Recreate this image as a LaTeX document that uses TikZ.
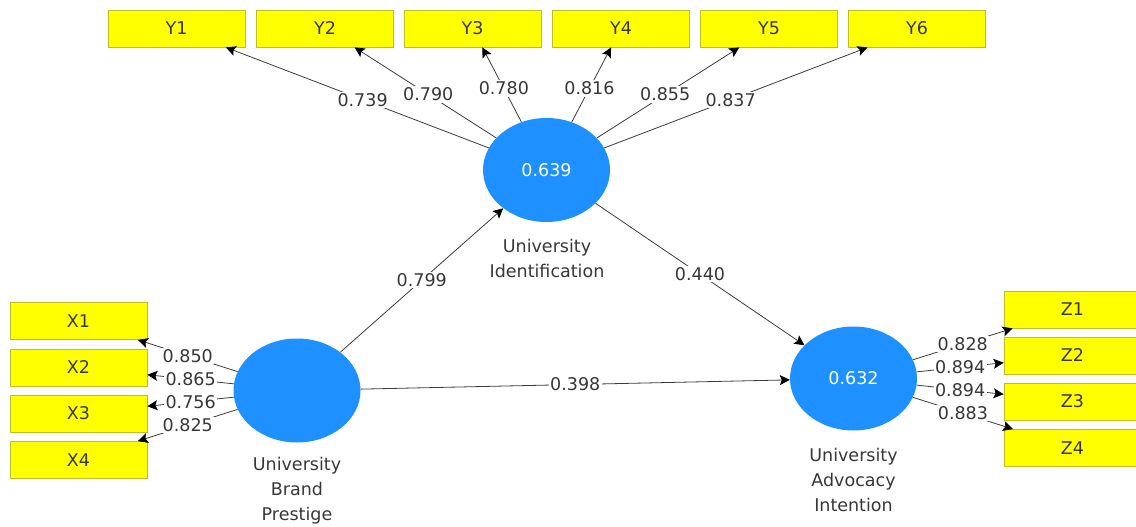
\documentclass[tikz,border=0pt]{standalone}
\usepackage{fontspec}
\setmainfont{DejaVu Sans}
\usetikzlibrary{shapes.geometric,arrows.meta}
\definecolor{plsblue}{RGB}{30,144,255}
\definecolor{boxyellow}{RGB}{255,255,0}
\definecolor{boxborder}{RGB}{190,190,40}
\definecolor{txt}{RGB}{55,55,55}
\definecolor{linegray}{RGB}{60,60,60}
\newcommand{\labfont}{\fontsize{17.5}{25}\selectfont}
\tikzset{
  ind/.style={draw=boxborder, fill=boxyellow, line width=0.8pt, minimum width=137pt, minimum height=37pt, inner sep=0pt, font=\labfont, text=txt},
  lat/.style={ellipse, fill=plsblue, minimum width=127pt, minimum height=104pt, inner sep=0pt, font=\labfont, text=white},
  ld/.style={fill=white, inner sep=1.5pt, font=\labfont, text=txt},
  latcap/.style={align=center, font=\labfont, text=txt, inner sep=0pt},
  conn/.style={draw=linegray, line width=0.8pt, -{Stealth[length=10pt,width=10pt,inset=2pt,color=black]}}
}
\begin{document}
\begin{tikzpicture}[x=1pt,y=-1pt]
\useasboundingbox (0,0) rectangle (1136,527);
\clip (0,0) rectangle (1136,527);
% indicator boxes
\node[ind] (Y1) at (176.5,28.5) {Y1};
\node[ind] (Y2) at (325,28.5) {Y2};
\node[ind] (Y3) at (472.5,28.5) {Y3};
\node[ind] (Y4) at (621,28.5) {Y4};
\node[ind] (Y5) at (769,28.5) {Y5};
\node[ind] (Y6) at (917,28.5) {Y6};
\node[ind] (X1) at (78.5,321) {X1};
\node[ind] (X2) at (78.5,367.5) {X2};
\node[ind] (X3) at (78.5,413.5) {X3};
\node[ind] (X4) at (78.5,460) {X4};
\node[ind] (Z1) at (1072.5,309.5) {Z1};
\node[ind] (Z2) at (1072.5,355.5) {Z2};
\node[ind] (Z3) at (1072.5,401.5) {Z3};
\node[ind] (Z4) at (1072.5,448) {Z4};
% latent variables
\node[lat] (UI) at (546.5,170) {0.639};
\node[lat] (UBP) at (297,390.5) {};
\node[lat] (UAI) at (853.5,378.5) {0.632};
\node[latcap] (capUI) at (547,258) {University\\Identification};
\node[latcap] (capUBP) at (297,491) {University\\Brand\\Prestige};
\node[latcap] (capUAI) at (853.5,480) {University\\Advocacy\\Intention};
% outer loadings Y
\draw[conn] (UI) -- node[ld,pos=0.48] {0.739} (Y1);
\draw[conn] (UI) -- node[ld,pos=0.48] {0.790} (Y2);
\draw[conn] (UI) -- node[ld,pos=0.45] {0.780} (Y3);
\draw[conn] (UI) -- node[ld,pos=0.45] {0.816} (Y4);
\draw[conn] (UI) -- node[ld,pos=0.48] {0.855} (Y5);
\draw[conn] (UI) -- node[ld,pos=0.48] {0.837} (Y6);
% outer loadings X
\draw[conn] (UBP) -- node[ld,pos=0.5] {0.850} (X1);
\draw[conn] (UBP) -- node[ld,pos=0.5] {0.865} (X2);
\draw[conn] (UBP) -- node[ld,pos=0.5] {0.756} (X3);
\draw[conn] (UBP) -- node[ld,pos=0.5] {0.825} (X4);
% outer loadings Z
\draw[conn] (UAI) -- node[ld,pos=0.5] {0.828} (Z1);
\draw[conn] (UAI) -- node[ld,pos=0.5] {0.894} (Z2);
\draw[conn] (UAI) -- node[ld,pos=0.5] {0.894} (Z3);
\draw[conn] (UAI) -- node[ld,pos=0.5] {0.883} (Z4);
% structural paths
\draw[conn] (UBP) -- node[ld,pos=0.5] {0.799} (UI);
\draw[conn] (UI) -- node[ld,pos=0.5] {0.440} (UAI);
\draw[conn] (UBP) -- node[ld,pos=0.5] {0.398} (UAI);
\end{tikzpicture}
\end{document}
